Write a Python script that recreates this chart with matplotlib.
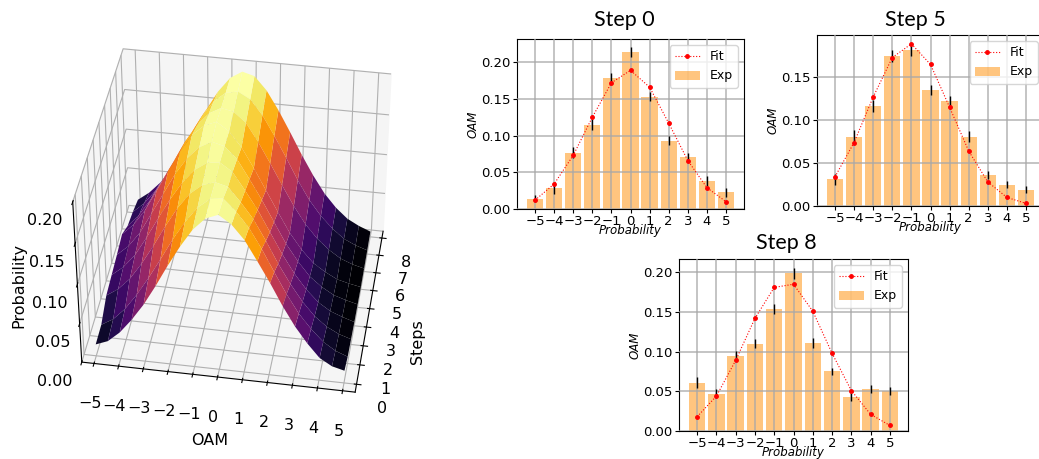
import numpy as np
import matplotlib
matplotlib.use("Agg")
import matplotlib.pyplot as plt

W, H = 1039, 459

oam = [-5, -4, -3, -2, -1, 0, 1, 2, 3, 4, 5]

exp_0 = [.014, .028, .077, .115, .178, .214, .153, .093, .071, .038, .023]
err_0 = [.005, .007, .007, .007, .007, .007, .006, .006, .006, .007, .006]
fit_0 = [.012, .034, .073, .125, .172, .189, .166, .117, .066, .029, .010]

exp_5 = [.031, .081, .116, .175, .182, .135, .122, .081, .036, .025, .019]
err_5 = [.006, .007, .007, .007, .007, .006, .006, .006, .005, .004, .004]
fit_5 = [.034, .074, .127, .173, .189, .165, .115, .064, .028, .010, .003]

exp_8 = [.061, .047, .095, .110, .154, .199, .111, .075, .043, .053, .050]
err_8 = [.007, .006, .006, .006, .006, .007, .006, .005, .005, .005, .005]
fit_8 = [.018, .044, .089, .142, .181, .185, .151, .098, .051, .021, .007]

surf_oam = [-5, -4.5, -4, -3.5, -3, -2.5, -2, -1.5, -1, -.5, 0, .5, 1, 1.5, 2, 2.5, 3, 3.5, 4, 4.5, 5]
surf_steps = [0, 1, 2, 3, 4, 5, 6, 7, 8]
# Surface heights estimated by eye, one row per step.
row_0 = [.015, .021, .034, .052, .073, .098, .125, .150, .172, .187, .193, .183, .166, .142, .117, .090, .066, .046, .029, .020, .016]
row_1 = [.016, .025, .040, .060, .083, .108, .134, .157, .176, .188, .190, .176, .158, .134, .107, .081, .058, .040, .025, .015, .009]
row_2 = [.030, .040, .055, .076, .100, .126, .150, .169, .181, .186, .182, .165, .146, .121, .094, .070, .049, .032, .020, .012, .007]
row_3 = [.033, .045, .062, .086, .112, .137, .159, .176, .186, .188, .178, .157, .135, .109, .083, .060, .041, .026, .016, .010, .005]
row_4 = [.036, .049, .068, .094, .120, .146, .167, .182, .190, .186, .172, .149, .125, .099, .073, .052, .034, .022, .013, .008, .004]
row_5 = [.040, .054, .074, .100, .127, .152, .174, .187, .193, .183, .165, .141, .115, .089, .064, .044, .028, .018, .010, .006, .003]
row_6 = [.028, .044, .065, .090, .116, .143, .165, .181, .189, .186, .174, .152, .127, .101, .076, .054, .037, .024, .014, .008, .004]
row_7 = [.024, .037, .055, .078, .103, .130, .155, .175, .187, .190, .182, .164, .140, .114, .087, .063, .044, .029, .017, .010, .005]
row_8 = [.018, .029, .044, .065, .089, .116, .143, .167, .185, .194, .190, .174, .151, .125, .098, .073, .051, .034, .021, .013, .007]

fig = plt.figure(figsize=(W / 100, H / 100), dpi=100)


def rect(l, t, r, b):
    return [l / W, 1 - b / H, (r - l) / W, (b - t) / H]


# 3D surface
ax3 = fig.add_axes(rect(6, -6, 456, 453), projection="3d")
X, Y = np.meshgrid(surf_oam, surf_steps)
Z = np.array([row_0, row_1, row_2, row_3, row_4, row_5, row_6, row_7, row_8])
ax3.plot_surface(X, Y, Z, cmap="inferno", rstride=1, cstride=1, linewidth=0, antialiased=True)
ax3.set_box_aspect((4.1, 3.7, 3.1), zoom=0.913)
ax3.view_init(elev=40, azim=-81)
ax3.set_xlim(-5.5, 5.5)
ax3.set_ylim(-0.4, 8.4)
ax3.set_zlim(0, 0.2)
ax3.set_xticks(oam)
ax3.set_yticks(surf_steps)
ax3.set_zticks([0, .05, .1, .15, .2])
ax3.set_zticklabels(["0.00", "0.05", "0.10", "0.15", "0.20"])
ax3.zaxis.set_ticks_position("lower")
ax3.tick_params(labelsize=11.5)
ax3.tick_params(axis="x", pad=9)
ax3.tick_params(axis="y", pad=8)
ax3.tick_params(axis="z", pad=6)
for axis in (ax3.xaxis, ax3.yaxis, ax3.zaxis):
    axis.set_pane_color((0.96, 0.96, 0.96, 1.0))
ax3.yaxis.set_rotate_label(False)
ax3.set_xlabel("OAM", fontsize=11.5, labelpad=12)
ax3.set_ylabel("Steps", fontsize=11.5, labelpad=10, rotation=90)
fig.text(19 / W, 1 - 285 / H, "Probability", fontsize=11.5, rotation=90, ha="center", va="center")


def bars(box, exp, err, fit, ylim, yticks):
    ax = fig.add_axes(rect(*box))
    ax.bar(oam, exp, width=0.85, color="darkorange", alpha=0.5, yerr=err,
           error_kw=dict(ecolor="black", elinewidth=1, zorder=5), label="Exp")
    ax.plot(oam, fit, color="red", ls=":", lw=0.8, marker="o", ms=2.5, label="Fit", zorder=6)
    ax.set_xlim(-5.94, 5.94)
    ax.set_ylim(*ylim)
    ax.set_xticks(oam)
    ax.set_yticks(yticks)
    ax.set_yticklabels([f"{t:.2f}" for t in yticks])
    ax.tick_params(labelsize=9.5, pad=1.5, length=3)
    ax.set_axisbelow(False)
    ax.grid(True, color="#a8a8a8", lw=1.2, alpha=0.8)
    ax.set_xlabel("Probability", fontsize=8.5, style="italic")
    ax.set_ylabel("OAM", fontsize=8.5, style="italic")
    ax.xaxis.set_label_coords(0.5, -0.09)
    ax.yaxis.set_label_coords(-0.165, 0.5)
    ax.legend(loc="upper right", fontsize=9, borderaxespad=0.5)
    return ax


bars((517, 39, 744, 209), exp_0, err_0, fit_0, (0, .2317), [0, .05, .1, .15, .2])
bars((817, 35, 1044, 206), exp_5, err_5, fit_5, (0, .1993), [0, .05, .1, .15])
bars((679, 259, 908, 431), exp_8, err_8, fit_8, (0, .2168), [0, .05, .1, .15, .2])

for label, cx, base in [("Step 0", 624, 26), ("Step 5", 915, 26), ("Step 8", 786, 249)]:
    fig.text(cx / W, 1 - base / H, label, fontsize=15.5, family="Lato", ha="center", va="baseline")

fig.savefig("out.png", dpi=100)
